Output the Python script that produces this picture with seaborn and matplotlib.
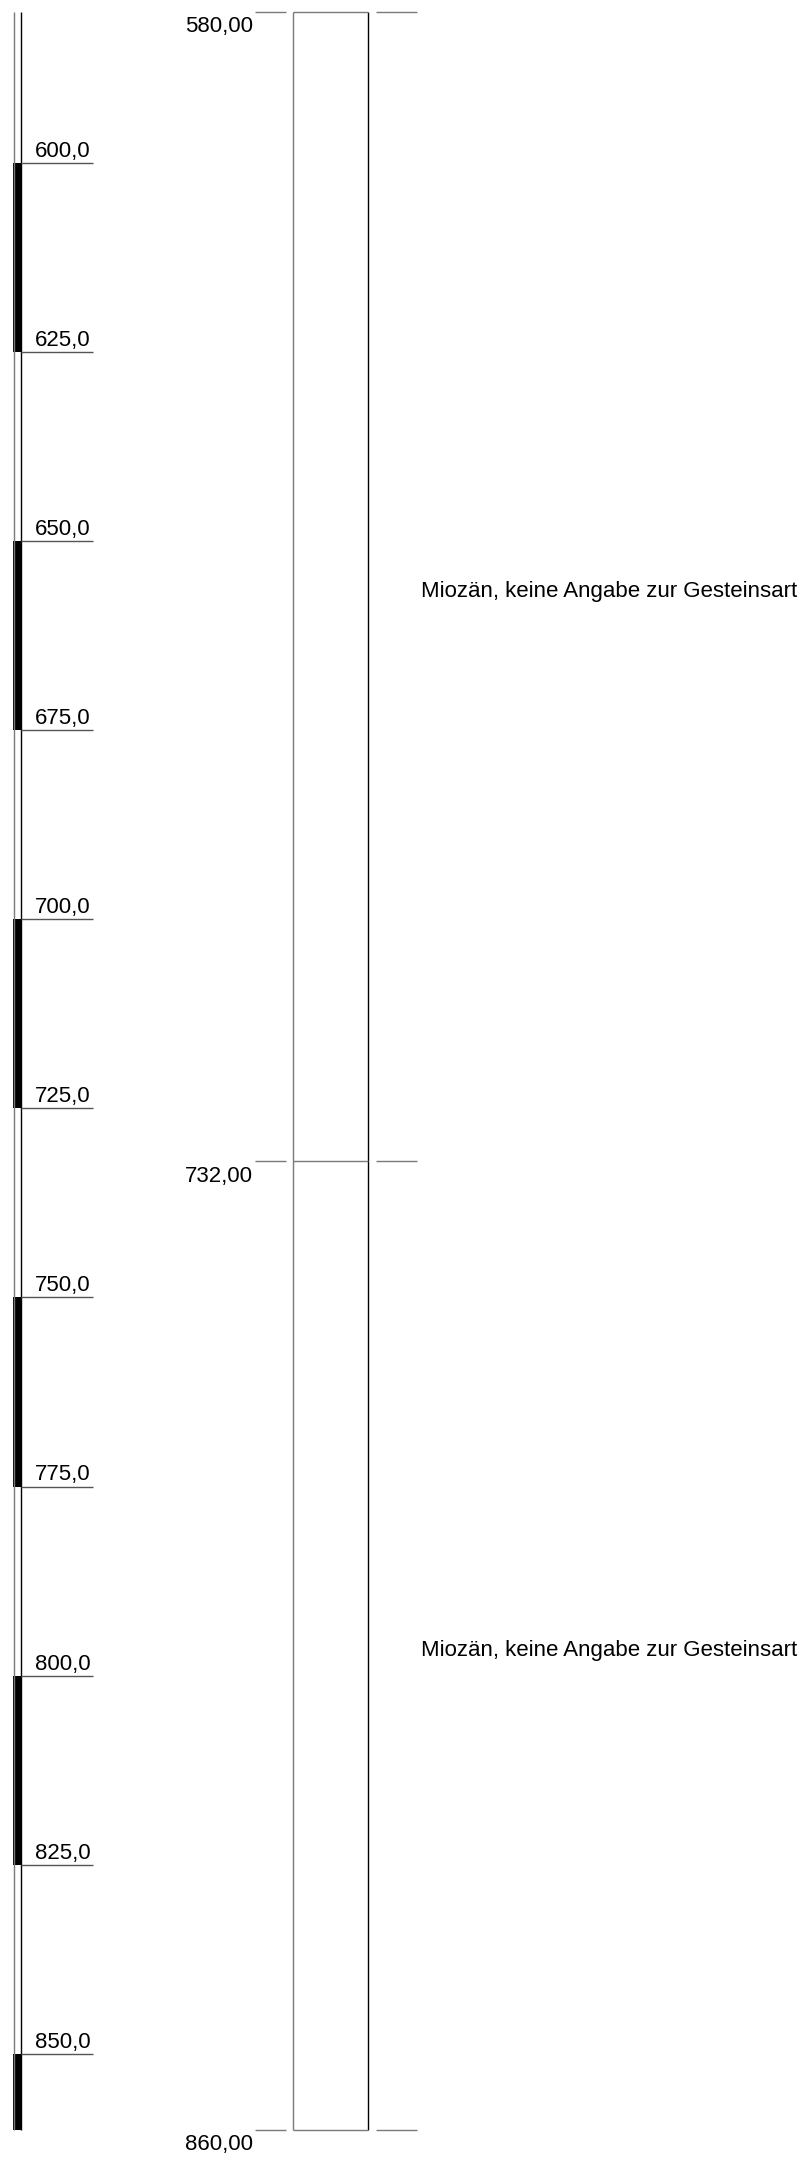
import matplotlib
matplotlib.use("Agg")
import matplotlib.pyplot as plt
import seaborn as sns
import numpy as np

# ---- data ----
boundary_depths = [580.0, 732.0, 860.0]
boundary_labels = ["580,00", "732,00", "860,00"]
layer_tops = [580.0, 732.0]
layer_bottoms = [732.0, 860.0]
layer_labels = ["Miozän, keine Angabe zur Gesteinsart",
                "Miozän, keine Angabe zur Gesteinsart"]

scale_ticks = [600, 625, 650, 675, 700, 725, 750, 775, 800, 825, 850]
scale_labels = ["600,0", "625,0", "650,0", "675,0", "700,0", "725,0",
                "750,0", "775,0", "800,0", "825,0", "850,0"]
scale_seg_tops = [580, 600, 625, 650, 675, 700, 725, 750, 775, 800, 825, 850]
scale_seg_bottoms = [600, 625, 650, 675, 700, 725, 750, 775, 800, 825, 850, 860]
scale_seg_colors = ["white", "black", "white", "black", "white", "black",
                    "white", "black", "white", "black", "white", "black"]

# ---- style ----
sns.set_theme(style="white")
plt.rcParams['font.family'] = ['Liberation Sans', 'DejaVu Sans']

W, H = 807, 2158
fig = plt.figure(figsize=(W / 100, H / 100), dpi=100)
ax = fig.add_axes([0, 0, 1, 1])
ax.axis("off")

px_per_m = (2129.5 - 11.5) / (860 - 580)
top_depth = 580 - 11.5 / px_per_m
bot_depth = 860 + (H - 2129.5) / px_per_m
ax.set_xlim(0, W)
ax.set_ylim(bot_depth, top_depth)

gray = "#7a7a7a"
lw = 1.0
fs = 16.0

# scale bar
seg_h = np.array(scale_seg_bottoms) - np.array(scale_seg_tops)
ax.bar(x=17.0, height=seg_h, bottom=scale_seg_tops, width=8,
       color=scale_seg_colors, linewidth=0, align="center")
ax.vlines(13.5, scale_seg_tops[0], scale_seg_bottoms[-1], color=gray, lw=lw)
ax.vlines(20.5, scale_seg_tops[0], scale_seg_bottoms[-1], color="black", lw=lw)
ax.hlines(scale_ticks, 20.5, 93, color="#555555", lw=lw)
for t, lab in zip(scale_ticks, scale_labels):
    ax.text(91, t - 0.8, lab, ha="right", va="baseline", fontsize=fs, color="black")

# layer column
ax.vlines(292.7, boundary_depths[0], boundary_depths[-1], color=gray, lw=lw)
ax.vlines(368.3, boundary_depths[0], boundary_depths[-1], color="black", lw=lw)
ax.hlines(boundary_depths, 292.7, 368.3, color=gray, lw=lw)
ax.hlines(boundary_depths, 255, 285.7, color=gray, lw=lw)
ax.hlines(boundary_depths, 376, 417, color=gray, lw=lw)
for d, lab in zip(boundary_depths, boundary_labels):
    ax.text(253, d + 2.75, lab, ha="right", va="baseline", fontsize=fs, color="black")

for t, b, lab in zip(layer_tops, layer_bottoms, layer_labels):
    mid = (t + b) / 2
    ax.text(421, mid + 1.4, lab, ha="left", va="baseline", fontsize=fs, color="black")

fig.savefig("out.png", dpi=100)
